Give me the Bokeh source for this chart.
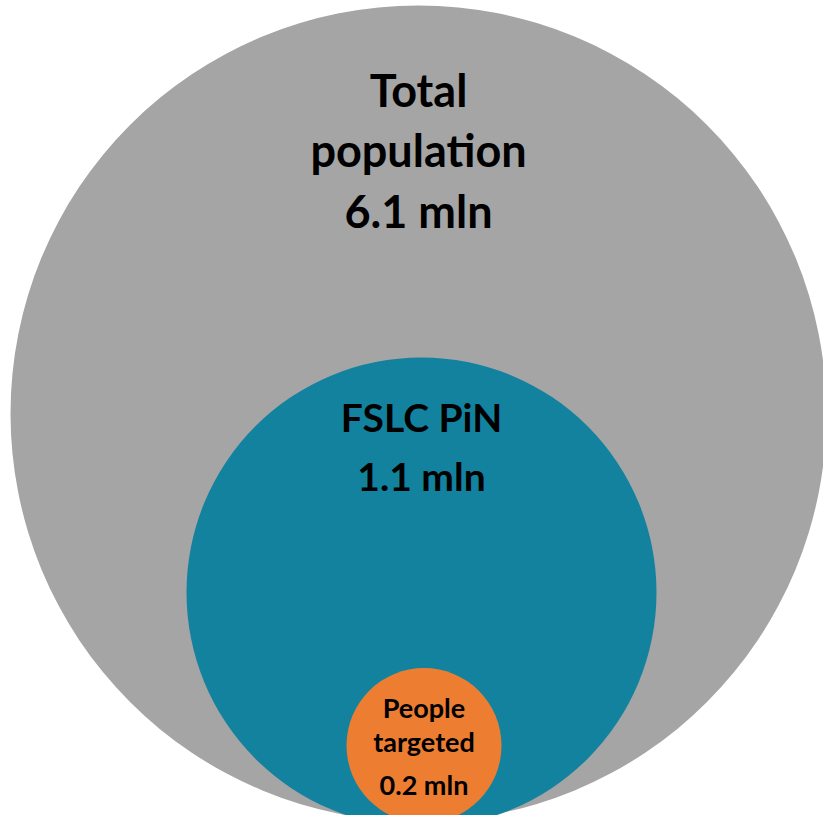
from bokeh.plotting import figure
from bokeh.models import Range1d
from bokeh.core.properties import value
from bokeh.embed import file_html
from bokeh.resources import INLINE

# Data
labels = ["Total population", "FSLC PiN", "People targeted"]
values_mln = [6.1, 1.1, 0.2]
colors = ["#A5A5A5", "#13829F", "#ED7D31"]

# Layout (pixel-like data units)
cx = [418, 421, 423.5]
cy = [413, 592, 745]
radius = [408, 235, 77.5]

W, H = 823, 815
p = figure(width=W, height=H, output_backend="svg", toolbar_location=None,
           x_range=Range1d(0, W), y_range=Range1d(H, 0),
           min_border=0)
p.axis.visible = False
p.grid.visible = False
p.outline_line_color = None
p.background_fill_color = "white"
p.border_fill_color = "white"

p.circle(x=cx, y=cy, radius=radius, fill_color=colors, line_color=None)

def lines_for(i):
    lab = labels[i]
    val = f"{values_mln[i]} mln"
    if i == 0:
        return ["Total", "population", val]
    if i == 1:
        return [lab, val]
    return ["People", "targeted", val]

text_specs = [
    (0, [89, 149, 210], "45px"),
    (1, [416, 475], "39px"),
    (2, [707, 741, 784], "27px"),
]
for i, ys, size in text_specs:
    ls = lines_for(i)
    p.text(x=[cx[i]] * len(ls), y=ys, text=ls, text_align="center",
           text_baseline="alphabetic", text_font=value("Lato"),
           text_font_style="bold", text_font_size=size, text_color="black")

open("out.html", "w").write(file_html(p, INLINE))
